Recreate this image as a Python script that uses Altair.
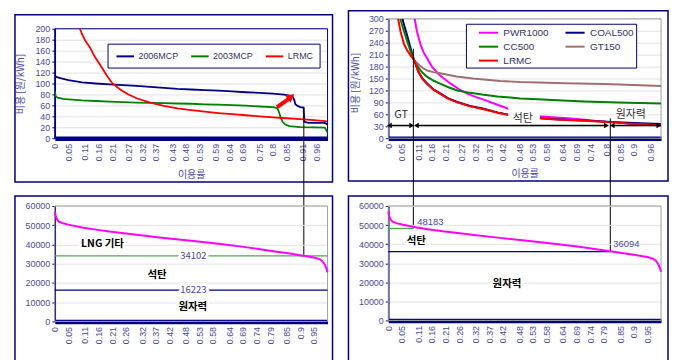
import altair as alt
import pandas as pd

FONT = "Liberation Sans, Arial, Noto Sans CJK KR, sans-serif"
KFONT = "Noto Sans CJK KR, Liberation Sans, sans-serif"
AX = "#4b4b9b"
NAVY = "#000080"
GRID = "#e2e2e2"
GRAYBORDER = "#a0a0a0"
LEGEND_LINE = "M-1.6,0H1.6"

# ---------------- layout (pixels) ----------------
W = 274
H_TOP = 120
P1_TOP = 10
H3 = 116
H4 = 115
VSP = 68
HSP = 61

# ---------------- tick labels ----------------
TICKS_P1 = [0, 0.05, 0.11, 0.16, 0.21, 0.27, 0.32, 0.37, 0.43, 0.48, 0.53, 0.59, 0.64, 0.69, 0.75, 0.8, 0.85, 0.91, 0.96]
TICKS_P2 = [0, 0.05, 0.11, 0.16, 0.21, 0.27, 0.32, 0.37, 0.42, 0.48, 0.53, 0.58, 0.64, 0.69, 0.74, 0.8, 0.85, 0.9, 0.96]
TICKS_P34 = [0, 0.05, 0.11, 0.16, 0.21, 0.26, 0.32, 0.37, 0.42, 0.48, 0.53, 0.58, 0.64, 0.69, 0.74, 0.79, 0.85, 0.9, 0.95]
Y_TICKS_P1 = [0, 20, 40, 60, 80, 100, 120, 140, 160, 180, 200]
Y_TICKS_P2 = [0, 30, 60, 90, 120, 150, 180, 210, 240, 270, 300]
Y_TICKS_P34 = [0, 10000, 20000, 30000, 40000, 50000, 60000]

# ---------------- panel 1 data ----------------
P1_NAMES = ["2006MCP", "2003MCP", "LRMC"]
P1_COLORS = [NAVY, "#008000", "#ff0000"]
MCP2006_U = [0, 0.005, 0.02, 0.05, 0.1, 0.15, 0.2, 0.25, 0.3, 0.35, 0.4, 0.45, 0.5, 0.55, 0.6, 0.65, 0.7, 0.75, 0.8, 0.84, 0.86, 0.872, 0.878, 0.882, 0.89, 0.9, 0.912, 0.915, 0.93, 0.99, 1.0]
MCP2006_V = [115, 112, 110, 106, 102, 100, 98.5, 97, 95.5, 94, 92, 90, 89, 88, 87, 85.5, 84, 83, 81.5, 79.5, 78, 76, 70, 62, 59, 57, 56, 30, 28, 28, 25]
MCP2003_U = [0, 0.003, 0.01, 0.03, 0.05, 0.1, 0.15, 0.2, 0.25, 0.3, 0.35, 0.4, 0.45, 0.5, 0.55, 0.6, 0.65, 0.7, 0.75, 0.8, 0.815, 0.822, 0.828, 0.835, 0.845, 0.86, 0.9, 0.95, 0.99, 0.995, 1.0]
MCP2003_V = [85, 77, 74, 72, 71, 69, 68, 67, 66, 65, 64.5, 64, 63.5, 63, 62, 61.5, 60.5, 59.5, 58, 57, 55, 48, 38, 30, 25, 22, 20.5, 20, 19.5, 15, 11]
LRMC1_U = [0.092, 0.1, 0.11, 0.12, 0.13, 0.145, 0.165, 0.19, 0.21, 0.24, 0.27, 0.3, 0.35, 0.4, 0.45, 0.5, 0.55, 0.6, 0.65, 0.7, 0.75, 0.8, 0.85, 0.9, 0.95, 1.0]
LRMC1_V = [200, 190, 180, 172, 165, 150, 135, 115, 101, 89, 80, 73, 65, 59, 54.5, 51.5, 48.5, 46, 44, 42, 40, 38, 36.5, 35, 33, 31]
P1_ARROW_U = [0.815, 0.858]
P1_ARROW_V = [57, 72]
P1_ARROW_HEAD = [0.866, 76]
P1_LINK_U = 0.913
P1_LINK_TOP = 56

# ---------------- panel 2 data ----------------
P2_NAMES = ["PWR1000", "COAL500", "CC500", "GT150", "LRMC"]
P2_COLORS = ["#ff00ff", NAVY, "#008000", "#a07070", "#ff0000"]
PWR_U = [0.097, 0.105, 0.119, 0.13, 0.143, 0.16, 0.18, 0.2, 0.229, 0.26, 0.29, 0.32, 0.35, 0.4, 0.44, 0.5, 0.557, 0.6, 0.66, 0.72, 0.77, 0.816, 0.88, 0.95, 1.0]
PWR_V = [300, 268, 234, 215, 200, 180, 164, 152, 137, 123, 112, 104, 97, 84, 74, 63, 55.5, 53, 50, 46.5, 43, 40.5, 37, 34.5, 32]
COAL_U = [0.052, 0.058, 0.065, 0.078, 0.088, 0.095, 0.11, 0.125, 0.143, 0.165, 0.192, 0.22, 0.253, 0.3, 0.35, 0.4, 0.423, 0.45, 0.5, 0.557, 0.6, 0.65, 0.72, 0.77, 0.816, 0.88, 0.95, 1.0]
COAL_V = [300, 284, 268, 236, 210, 196, 168, 150, 137, 123, 112, 100, 91, 81, 74, 65, 61.5, 58, 54, 50.5, 48.5, 46.5, 44.5, 42.5, 41, 39, 37, 35.5]
CC_U = [0.044, 0.058, 0.072, 0.085, 0.095, 0.11, 0.125, 0.143, 0.165, 0.19, 0.22, 0.253, 0.3, 0.35, 0.4, 0.484, 0.55, 0.6, 0.72, 0.843, 1.0]
CC_V = [300, 268, 238, 212, 196, 178, 165, 154, 145, 137, 128, 120, 114, 109, 105, 100, 98, 96, 92.5, 89.5, 87.5]
GT_U = [0.095, 0.11, 0.125, 0.143, 0.165, 0.19, 0.25, 0.31, 0.41, 0.484, 0.55, 0.65, 0.79, 0.9, 1.0]
GT_V = [196, 186, 177, 170, 166, 163, 155, 150, 144, 141, 140, 138, 136, 133.5, 131]
LRMC2_U = [0.036, 0.045, 0.058, 0.07, 0.083, 0.095, 0.11, 0.125, 0.143, 0.165, 0.192, 0.22, 0.253, 0.3, 0.35, 0.4, 0.423, 0.45, 0.5, 0.557, 0.6, 0.65, 0.72, 0.77, 0.816, 0.88, 0.95, 1.0]
LRMC2_V = [300, 268, 236, 220, 207, 196, 167, 149, 136, 122, 111, 99, 90, 80, 73, 64, 61, 57.5, 53.5, 50, 48, 46, 44, 42, 40.5, 37, 34.5, 32]
P2_ARROW_START = [0.004, 0.103, 0.821]
P2_ARROW_END = [0.086, 0.800, 0.992]
P2_ARROW_LEVEL = 32
P2_TEXT = ["GT", "석탄", "원자력"]
P2_TEXT_U = [0.047, 0.493, 0.889]
P2_TEXT_V = [57.5, 47.5, 57.5]
P2_MASK = [0.44, 0.556, 38, 77]   # white text box behind "석탄"
P2_LINK_U = [0.092, 0.814]
P2_LINK_TOP = [225, 50]

# ---------------- panels 3 and 4 data (load duration curve) ----------------
LOAD_U = [0, 0.003, 0.008, 0.015, 0.03, 0.05, 0.1, 0.15, 0.2, 0.3, 0.4, 0.5, 0.6, 0.7, 0.8, 0.85, 0.9, 0.95, 0.97, 0.98, 0.99, 0.995, 1.0]
LOAD_V = [57000, 55000, 53000, 51800, 51000, 50300, 48800, 47700, 46700, 45000, 43400, 41900, 40300, 38600, 36500, 35500, 34400, 33200, 32400, 31400, 29500, 27800, 25500]
P3_LEVELS = [34102, 16223]
P3_LEVEL_COLORS = ["#4aa84a", NAVY]
P3_LEVEL_LABEL_U = 0.508
P3_LABELS = ["LNG 기타", "석탄", "원자력"]
P3_LABEL_U = [0.175, 0.375, 0.506]
P3_LABEL_V = [40200, 24150, 7240]
P4_LEVELS = [48183, 36094]
P4_LEVEL_END = [0.092, 0.814]
P4_LEVEL_COLORS = ["#4aa84a", NAVY]
P4_NUM_U = [0.106, 0.825]
P4_NUM_V = [51650, 40170]
P4_LABELS = ["석탄", "원자력"]
P4_LABEL_U = [0.103, 0.435]
P4_LABEL_V = [41600, 19300]

# ---------------- helpers ----------------
ONE = pd.DataFrame({"k": [0]})


def curves(names, us, vs):
    rows = []
    for name, uu, vv in zip(names, us, vs):
        for i, (a, b) in enumerate(zip(uu, vv)):
            rows.append({"series": name, "u": a, "v": b, "i": i})
    return pd.DataFrame(rows)


def frame(x1, x2, y1, y2, color, width):
    return alt.Chart(ONE).mark_rect(filled=False, stroke=color, strokeWidth=width).encode(
        x=alt.value(x1), x2=alt.value(x2), y=alt.value(y1), y2=alt.value(y2))


def x_axis(ticks, title=None, title_y=0):
    kw = dict(values=ticks, format=".2~f", labelAngle=270, labelFont=FONT, labelFontSize=9,
              labelColor=AX, labelPadding=5, labelOverlap=False, labelFlush=False,
              ticks=False, tickSize=0, domainColor=NAVY, domainWidth=4.5, grid=False)
    if title:
        kw.update(title=title, titleFont=KFONT, titleFontSize=10, titleColor=AX,
                  titleFontWeight="normal", titleY=title_y, titleBaseline="middle")
    else:
        kw.update(title=None)
    return alt.Axis(**kw)


def y_axis(ticks, title=None, tx=0, ty=0):
    kw = dict(values=ticks, format="d", labelFont=FONT, labelFontSize=9, labelColor=AX,
              labelPadding=2, tickColor=NAVY, tickSize=3, domainColor=NAVY, domainWidth=1.5,
              grid=True, gridColor=GRID, gridWidth=1)
    if title:
        kw.update(title=title, titleFont=KFONT, titleFontSize=10, titleColor=AX,
                  titleFontWeight="normal", titleX=tx, titleY=ty, titleAngle=270,
                  titleBaseline="middle")
    else:
        kw.update(title=None)
    return alt.Axis(**kw)


def halo_text(df, size, bold, color, align="center"):
    weight = "bold" if bold else "normal"
    base = alt.Chart(df)
    back = base.mark_text(font=KFONT, fontSize=size, fontWeight=weight, align=align,
                          baseline="middle", stroke="white", strokeWidth=6,
                          strokeJoin="round", color="white")
    front = base.mark_text(font=KFONT, fontSize=size, fontWeight=weight, align=align,
                           baseline="middle", color=color)
    return back, front


# ---------------- panel 1 ----------------
X1 = alt.X("u:Q", scale=alt.Scale(domain=[0, 1], nice=False, zero=False),
           axis=x_axis(TICKS_P1, "이용률", 36))
Y1 = alt.Y("v:Q", scale=alt.Scale(domain=[0, 200], range=[H_TOP, P1_TOP], nice=False),
           axis=y_axis(Y_TICKS_P1, "비용 [원/kWh]", -34, 65))

df1 = curves(P1_NAMES, [MCP2006_U, MCP2003_U, LRMC1_U], [MCP2006_V, MCP2003_V, LRMC1_V])
leg1 = alt.Legend(title=None, orient="none", legendX=53, legendY=25, direction="horizontal",
                  symbolType=LEGEND_LINE, symbolSize=121, symbolStrokeWidth=2,
                  labelFont=FONT, labelFontSize=9, labelColor="#333366", labelOffset=6.7,
                  columnPadding=8, padding=6, symbolOffset=5.3,
                  strokeColor=NAVY, fillColor="white")
lines1 = alt.Chart(df1).mark_line(strokeWidth=1.8, clip=True).encode(
    x=X1, y=Y1,
    color=alt.Color("series:N", scale=alt.Scale(domain=P1_NAMES, range=P1_COLORS), legend=leg1),
    order="i:Q")
arrow_df = pd.DataFrame({"u": [P1_ARROW_U[0]], "u2": [P1_ARROW_U[1]],
                         "v": [P1_ARROW_V[0]], "v2": [P1_ARROW_V[1]]})
arrow_shaft = alt.Chart(arrow_df).mark_rule(color="#ff0000", strokeWidth=4).encode(
    x=X1, y=Y1, x2="u2:Q", y2="v2:Q")
head_df = pd.DataFrame({"u": [P1_ARROW_HEAD[0]], "v": [P1_ARROW_HEAD[1]]})
arrow_head = alt.Chart(head_df).mark_point(shape="triangle-up", filled=True, size=90,
                                           angle=53, color="#ff0000", opacity=1).encode(x=X1, y=Y1)
link1_px = H_TOP + VSP + H3 * (1 - P3_LEVELS[0] / 60000)
link1 = alt.Chart(pd.DataFrame({"u": [P1_LINK_U], "v": [P1_LINK_TOP]})).mark_rule(
    color="black", strokeWidth=1).encode(x=X1, y=Y1, y2=alt.value(link1_px))

p1 = alt.layer(
    frame(-40, 279, -4, 164, NAVY, 1.5),
    frame(0, W, P1_TOP, H_TOP, NAVY, 1),
    lines1, arrow_shaft, arrow_head, link1,
).properties(width=W, height=H_TOP)

# ---------------- panel 2 ----------------
X2 = alt.X("u:Q", scale=alt.Scale(domain=[0, 1], nice=False, zero=False),
           axis=x_axis(TICKS_P2, "이용률", 35))
Y2 = alt.Y("v:Q", scale=alt.Scale(domain=[0, 300], nice=False),
           axis=y_axis(Y_TICKS_P2, "비용 [원/kWh]", -33, 64))
df2 = curves(P2_NAMES, [PWR_U, COAL_U, CC_U, GT_U, LRMC2_U], [PWR_V, COAL_V, CC_V, GT_V, LRMC2_V])
leg2 = alt.Legend(title=None, orient="none", legendX=78, legendY=5, columns=2,
                  direction="horizontal",
                  symbolType=LEGEND_LINE, symbolSize=144, symbolStrokeWidth=2,
                  labelFont=FONT, labelFontSize=10, labelColor="#333366", labelOffset=8,
                  columnPadding=5, rowPadding=2, padding=2, symbolOffset=13.6,
                  strokeColor=NAVY, fillColor="white")
lines2 = alt.Chart(df2).mark_line(strokeWidth=2, clip=True).encode(
    x=X2, y=Y2,
    color=alt.Color("series:N", scale=alt.Scale(domain=P2_NAMES, range=P2_COLORS), legend=leg2),
    order="i:Q")
mask_df = pd.DataFrame({"u": [P2_MASK[0]], "u2": [P2_MASK[1]], "v": [P2_MASK[2]], "v2": [P2_MASK[3]]})
mask2 = alt.Chart(mask_df).mark_rect(color="white").encode(x=X2, x2="u2:Q", y=Y2, y2="v2:Q")
arr_df = pd.DataFrame({"u": P2_ARROW_START, "u2": P2_ARROW_END,
                       "v": [P2_ARROW_LEVEL] * len(P2_ARROW_START)})
arrows2 = alt.Chart(arr_df).mark_rule(color="black", strokeWidth=1.5).encode(x=X2, x2="u2:Q", y=Y2)
heads_df = pd.DataFrame({
    "u": P2_ARROW_START + P2_ARROW_END,
    "v": [P2_ARROW_LEVEL] * (2 * len(P2_ARROW_START)),
    "s": ["triangle-left"] * len(P2_ARROW_START) + ["triangle-right"] * len(P2_ARROW_END)})
heads2 = alt.Chart(heads_df).mark_point(filled=True, size=30, color="black", opacity=1).encode(
    x=X2, y=Y2, shape=alt.Shape("s:N", scale=None))
text2 = alt.Chart(pd.DataFrame({"u": P2_TEXT_U, "v": P2_TEXT_V, "t": P2_TEXT})).mark_text(
    font=KFONT, fontSize=11, color="#333333", baseline="middle").encode(x=X2, y=Y2, text="t:N")
link2a_px = H_TOP + VSP + H4 * (1 - P4_LEVELS[0] / 60000)
link2b_px = H_TOP + VSP + H4 * (1 - P4_LEVELS[1] / 60000)
link2a = alt.Chart(pd.DataFrame({"u": [P2_LINK_U[0]], "v": [P2_LINK_TOP[0]]})).mark_rule(
    color="black", strokeWidth=1).encode(x=X2, y=Y2, y2=alt.value(link2a_px))
link2b = alt.Chart(pd.DataFrame({"u": [P2_LINK_U[1]], "v": [P2_LINK_TOP[1]]})).mark_rule(
    color="black", strokeWidth=1).encode(x=X2, y=Y2, y2=alt.value(link2b_px))

p2 = alt.layer(
    frame(-40, 281, -8, 163, NAVY, 1.5),
    frame(0, W, 0, H_TOP, GRAYBORDER, 1),
    lines2, mask2, arrows2, heads2, text2, link2a, link2b,
).properties(width=W, height=H_TOP)

# ---------------- panel 3 ----------------
X3 = alt.X("u:Q", scale=alt.Scale(domain=[0, 1], nice=False, zero=False), axis=x_axis(TICKS_P34))
Y3 = alt.Y("v:Q", scale=alt.Scale(domain=[0, 60000], nice=False), axis=y_axis(Y_TICKS_P34))
load_df = pd.DataFrame({"u": LOAD_U, "v": LOAD_V, "i": list(range(len(LOAD_U)))})
lv3 = pd.DataFrame({"u": [0] * len(P3_LEVELS), "u2": [1] * len(P3_LEVELS), "v": P3_LEVELS,
                    "c": P3_LEVEL_COLORS})
rules3 = alt.Chart(lv3).mark_rule(strokeWidth=1.3).encode(
    x=X3, x2="u2:Q", y=Y3, color=alt.Color("c:N", scale=None))
num3_df = pd.DataFrame({"u": [P3_LEVEL_LABEL_U] * len(P3_LEVELS), "v": P3_LEVELS,
                        "t": [str(x) for x in P3_LEVELS]})
nb3, nf3 = halo_text(num3_df, 9.5, False, AX)
lab3_df = pd.DataFrame({"u": P3_LABEL_U, "v": P3_LABEL_V, "t": P3_LABELS})
lb3, lf3 = halo_text(lab3_df, 10.5, True, "black")
curve3 = alt.Chart(load_df).mark_line(color="#ff00ff", strokeWidth=2).encode(x=X3, y=Y3, order="i:Q")

p3 = alt.layer(
    frame(-40, 279, -10, 170, NAVY, 1.5),
    frame(0, W, 0, H3, GRAYBORDER, 1),
    rules3,
    nb3.encode(x=X3, y=Y3, text="t:N"), nf3.encode(x=X3, y=Y3, text="t:N"),
    lb3.encode(x=X3, y=Y3, text="t:N"), lf3.encode(x=X3, y=Y3, text="t:N"),
    curve3,
).properties(width=W, height=H3)

# ---------------- panel 4 ----------------
X4 = alt.X("u:Q", scale=alt.Scale(domain=[0, 1], nice=False, zero=False), axis=x_axis(TICKS_P34))
Y4 = alt.Y("v:Q", scale=alt.Scale(domain=[0, 60000], nice=False), axis=y_axis(Y_TICKS_P34))
lv4 = pd.DataFrame({"u": [0] * len(P4_LEVELS), "u2": P4_LEVEL_END, "v": P4_LEVELS, "c": P4_LEVEL_COLORS})
rules4 = alt.Chart(lv4).mark_rule(strokeWidth=1.3).encode(
    x=X4, x2="u2:Q", y=Y4, color=alt.Color("c:N", scale=None))
num4 = alt.Chart(pd.DataFrame({"u": P4_NUM_U, "v": P4_NUM_V, "t": [str(x) for x in P4_LEVELS]})).mark_text(
    font=FONT, fontSize=9.5, color=AX, align="left", baseline="middle").encode(x=X4, y=Y4, text="t:N")
lab4_df = pd.DataFrame({"u": P4_LABEL_U, "v": P4_LABEL_V, "t": P4_LABELS})
lb4, lf4 = halo_text(lab4_df, 10.5, True, "black")
curve4 = alt.Chart(load_df).mark_line(color="#ff00ff", strokeWidth=2).encode(x=X4, y=Y4, order="i:Q")

p4 = alt.layer(
    frame(-40, 281, -10, 170, NAVY, 1.5),
    frame(0, W, 0, H4, GRAYBORDER, 1),
    rules4, num4,
    lb4.encode(x=X4, y=Y4, text="t:N"), lf4.encode(x=X4, y=Y4, text="t:N"),
    curve4,
).properties(width=W, height=H4)

# ---------------- assemble ----------------
chart = (
    alt.concat(p1, p2, p3, p4, columns=2, spacing={"row": VSP, "column": HSP}, bounds="flush")
    .resolve_scale(color="independent")
    .properties(padding={"left": 5, "top": 0, "right": 0, "bottom": 0}, background="white")
    .configure_view(stroke="transparent")
)

chart.save("out.html", embed_options={"renderer": "svg", "actions": False})
